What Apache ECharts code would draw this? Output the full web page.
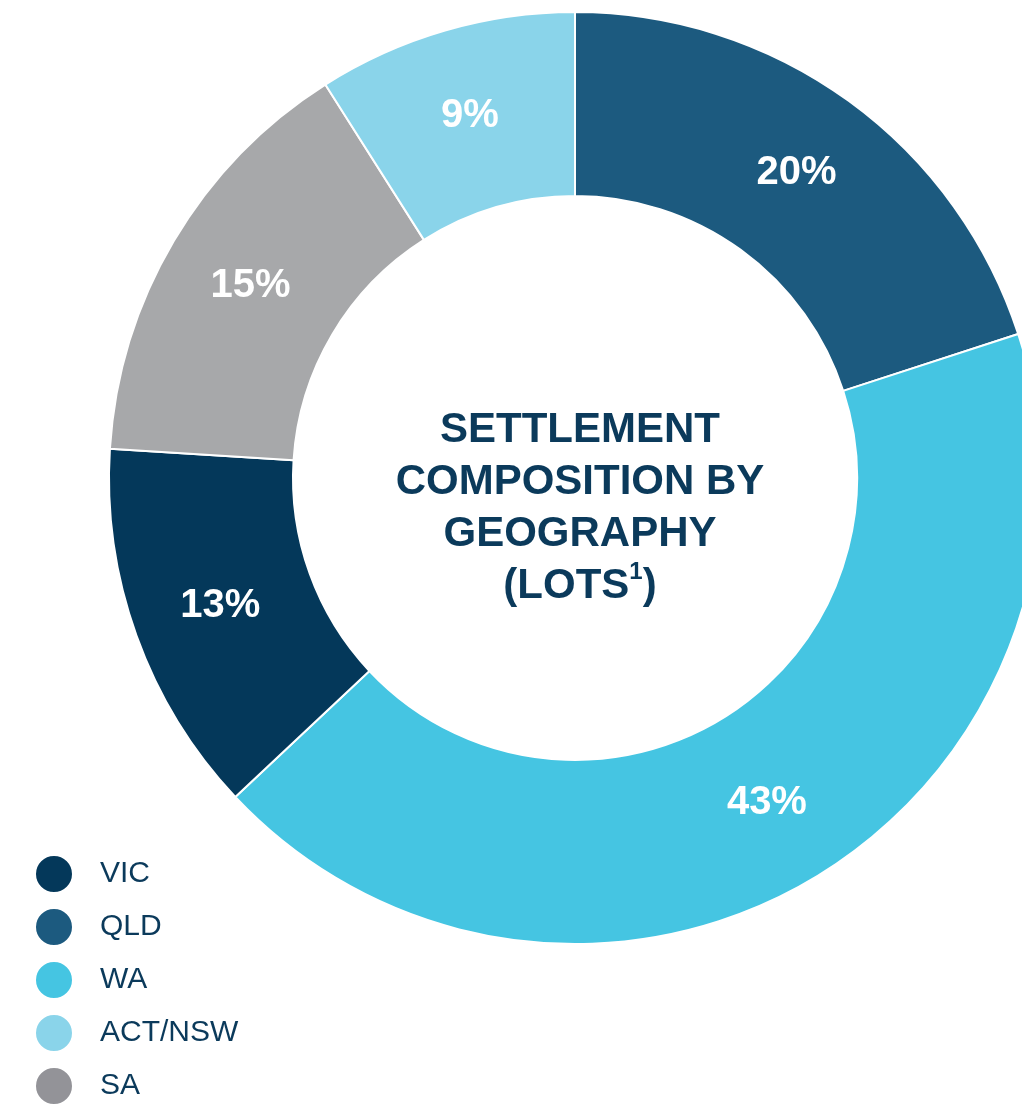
<!DOCTYPE html>
<html>
<head>
<meta charset="utf-8">
<title>Settlement composition by geography</title>
<script src="https://cdn.jsdelivr.net/npm/echarts@6/dist/echarts.min.js"></script>
<style>
  html, body { margin: 0; padding: 0; background: #ffffff; }
  #chart { width: 1022px; height: 1110px; }
</style>
</head>
<body>
<div id="chart"></div>
<script>
// slices, clockwise from 12 o'clock
const states = ['QLD', 'WA', 'VIC', 'SA', 'ACT/NSW'];
const shares = [20, 43, 13, 15, 9];
const sliceColors = ['#1c5a7f', '#45c5e2', '#04385a', '#a7a8aa', '#8ad4ea'];

// legend order as printed
const legendOrder = ['VIC', 'QLD', 'WA', 'ACT/NSW', 'SA'];

const navy = '#0b3a5b';
const fontFamily = "'Liberation Sans', Arial, Helvetica, sans-serif";

const myEchart = echarts.init(document.getElementById('chart'));

const option = {
  animation: false,
  color: sliceColors,
  legend: {
    orient: 'vertical',
    left: 29,
    top: 849,
    height: 270,
    icon: 'circle',
    itemWidth: 38,
    itemHeight: 38,
    itemGap: 13,
    textStyle: {
      color: navy,
      fontFamily: fontFamily,
      fontSize: 30,
      lineHeight: 38,
      padding: [0, 0, 0, 22]
    },
    data: legendOrder.map(function (name) {
      // the SA dot in the key is a slightly darker grey than its slice
      if (name === 'SA') {
        return { name: name, itemStyle: { color: '#939398' } };
      }
      return { name: name };
    })
  },
  graphic: [
    {
      type: 'text',
      x: 580,
      y: 508,
      style: {
        text: 'SETTLEMENT\nCOMPOSITION BY\nGEOGRAPHY\n(LOTS{sup|1})',
        align: 'center',
        verticalAlign: 'middle',
        fill: navy,
        font: 'bold 42px ' + fontFamily,
        lineHeight: 52,
        rich: {
          sup: {
            fill: navy,
            fontSize: 24,
            fontWeight: 'bold',
            fontFamily: fontFamily,
            lineHeight: 36,
            verticalAlign: 'top'
          }
        }
      }
    }
  ],
  series: [
    {
      type: 'pie',
      center: [575, 478],
      radius: [282, 466],
      startAngle: 90,
      clockwise: true,
      avoidLabelOverlap: false,
      itemStyle: {
        borderColor: '#ffffff',
        borderWidth: 2
      },
      label: {
        position: 'inside',
        formatter: '{c}%',
        color: '#ffffff',
        fontFamily: fontFamily,
        fontSize: 40,
        fontWeight: 'bold'
      },
      labelLine: { show: false },
      emphasis: { disabled: true },
      data: states.map(function (s, i) {
        return { name: s, value: shares[i] };
      })
    }
  ]
};

myEchart.setOption(option);
</script>
</body>
</html>
